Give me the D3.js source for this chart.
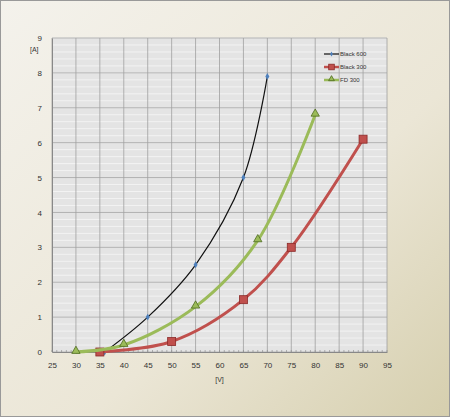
<!DOCTYPE html>
<html><head><meta charset="utf-8">
<script src="https://cdn.jsdelivr.net/npm/d3@7"></script>
<style>body{margin:0}svg{display:block;font-family:"Liberation Sans",Arial,sans-serif}</style>
</head><body><div id="chart"></div>
<script>
var black600X = [36, 45, 55, 65, 70];
var black600Y = [0, 1, 2.5, 5, 7.9];
var black300X = [35, 50, 65, 75, 90];
var black300Y = [0, 0.3, 1.5, 3, 6.1];
var fd300X = [30, 40, 55, 68, 80];
var fd300Y = [0, 0.2, 1.3, 3.2, 6.8];
var xTicks = [25, 30, 35, 40, 45, 50, 55, 60, 65, 70, 75, 80, 85, 90, 95];
var yTicks = [0, 1, 2, 3, 4, 5, 6, 7, 8, 9];

var w = 450, h = 417;
var svg = d3.select("#chart").append("svg").attr("width", w).attr("height", h);
var defs = svg.append("defs");
var grad = defs.append("linearGradient").attr("id", "bg").attr("x1", 0).attr("y1", 0).attr("x2", 1).attr("y2", 1);
grad.append("stop").attr("offset", "0%").attr("stop-color", "#f4f2ec");
grad.append("stop").attr("offset", "60%").attr("stop-color", "#ebe6d6");
grad.append("stop").attr("offset", "100%").attr("stop-color", "#d6cfae");
svg.append("rect").attr("x", 0.5).attr("y", 0.5).attr("width", w - 1).attr("height", h - 1)
  .attr("fill", "url(#bg)").attr("stroke", "#999");

var x = d3.scaleLinear().domain([25, 95]).range([52, 387]);
var y = d3.scaleLinear().domain([0, 9]).range([352, 38]);

svg.append("rect").attr("x", x(25)).attr("y", y(9)).attr("width", x(95) - x(25)).attr("height", y(0) - y(9))
  .attr("fill", "#e4e4e4");

// minor horizontal grid
svg.append("g").selectAll("line").data(d3.range(0, 9.01, 0.2)).enter().append("line")
  .attr("x1", x(25)).attr("x2", x(95)).attr("y1", function(d) { return y(d); }).attr("y2", function(d) { return y(d); })
  .attr("stroke", "#f6f6f6").attr("stroke-width", 0.8);
svg.append("g").selectAll("line").data(yTicks).enter().append("line")
  .attr("x1", x(25)).attr("x2", x(95)).attr("y1", function(d) { return y(d); }).attr("y2", function(d) { return y(d); })
  .attr("stroke", "#a0a0a0").attr("stroke-width", 0.8);
svg.append("g").selectAll("line").data(xTicks).enter().append("line")
  .attr("y1", y(0)).attr("y2", y(9)).attr("x1", function(d) { return x(d); }).attr("x2", function(d) { return x(d); })
  .attr("stroke", "#a0a0a0").attr("stroke-width", 0.8);

var xAxis = svg.append("g").attr("transform", "translate(0," + y(0) + ")")
  .call(d3.axisBottom(x).tickValues(xTicks).tickSize(0).tickPadding(10));
xAxis.select(".domain").attr("stroke", "#888");
var yAxis = svg.append("g").attr("transform", "translate(" + x(25) + ",0)")
  .call(d3.axisLeft(y).tickValues(yTicks).tickSize(0).tickPadding(10));
yAxis.select(".domain").attr("stroke", "#888");
svg.selectAll(".tick text").attr("font-size", 8).attr("fill", "#333");
// small x minor tick marks
svg.append("g").selectAll("line").data(d3.range(25, 95.1, 1)).enter().append("line")
  .attr("x1", function(d) { return x(d); }).attr("x2", function(d) { return x(d); })
  .attr("y1", y(0) - 2).attr("y2", y(0)).attr("stroke", "#888").attr("stroke-width", 0.6);

svg.append("text").attr("x", 30).attr("y", 52).attr("font-size", 7).attr("fill", "#333").text("[A]");
svg.append("text").attr("x", x(60)).attr("y", 382).attr("text-anchor", "middle").attr("font-size", 7).attr("fill", "#333").text("[V]");

var series = [
  { name: "Black 600", xs: black600X, ys: black600Y, color: "#111", width: 1.2, marker: "diamond" },
  { name: "Black 300", xs: black300X, ys: black300Y, color: "#c0504d", width: 3, marker: "square" },
  { name: "FD 300", xs: fd300X, ys: fd300Y, color: "#9bbb59", width: 3, marker: "triangle" }
];
var line = d3.line().x(function(d) { return x(d[0]); }).y(function(d) { return y(d[1]); }).curve(d3.curveCatmullRom.alpha(0.5));

function drawMarker(g, type, cx, cy, scale) {
  var k = scale || 1;
  if (type === "diamond") {
    g.append("path").attr("d", d3.symbol(d3.symbolDiamond, 14 * k * k)()).attr("transform", "translate(" + cx + "," + cy + ")")
      .attr("fill", "#4f81bd");
  } else if (type === "square") {
    g.append("rect").attr("x", cx - 4 * k).attr("y", cy - 4 * k).attr("width", 8 * k).attr("height", 8 * k)
      .attr("fill", "#c0504d").attr("stroke", "#8b2a28").attr("stroke-width", 0.8);
  } else {
    g.append("path").attr("d", d3.symbol(d3.symbolTriangle, 30 * k * k)()).attr("transform", "translate(" + cx + "," + (cy - 1) + ")")
      .attr("fill", "#9bbb59").attr("stroke", "#4d6a1e").attr("stroke-width", 0.8);
  }
}

series.forEach(function(s) {
  var pts = s.xs.map(function(v, i) { return [v, s.ys[i]]; });
  svg.append("path").datum(pts).attr("d", line).attr("fill", "none").attr("stroke", s.color).attr("stroke-width", s.width);
  var g = svg.append("g");
  pts.forEach(function(p) { drawMarker(g, s.marker, x(p[0]), y(p[1])); });
});

var legend = svg.append("g").attr("transform", "translate(324,54)");
series.forEach(function(s, i) {
  var g = legend.append("g").attr("transform", "translate(0," + (i * 13) + ")");
  g.append("line").attr("x1", 0).attr("x2", 15).attr("stroke", s.color).attr("stroke-width", s.width === 3 ? 2.5 : 1.2);
  drawMarker(g, s.marker, 7.5, 0, 0.7);
  g.append("text").attr("x", 16).attr("y", 2.3).attr("font-size", 6).attr("fill", "#333").text(s.name);
});
</script></body></html>
